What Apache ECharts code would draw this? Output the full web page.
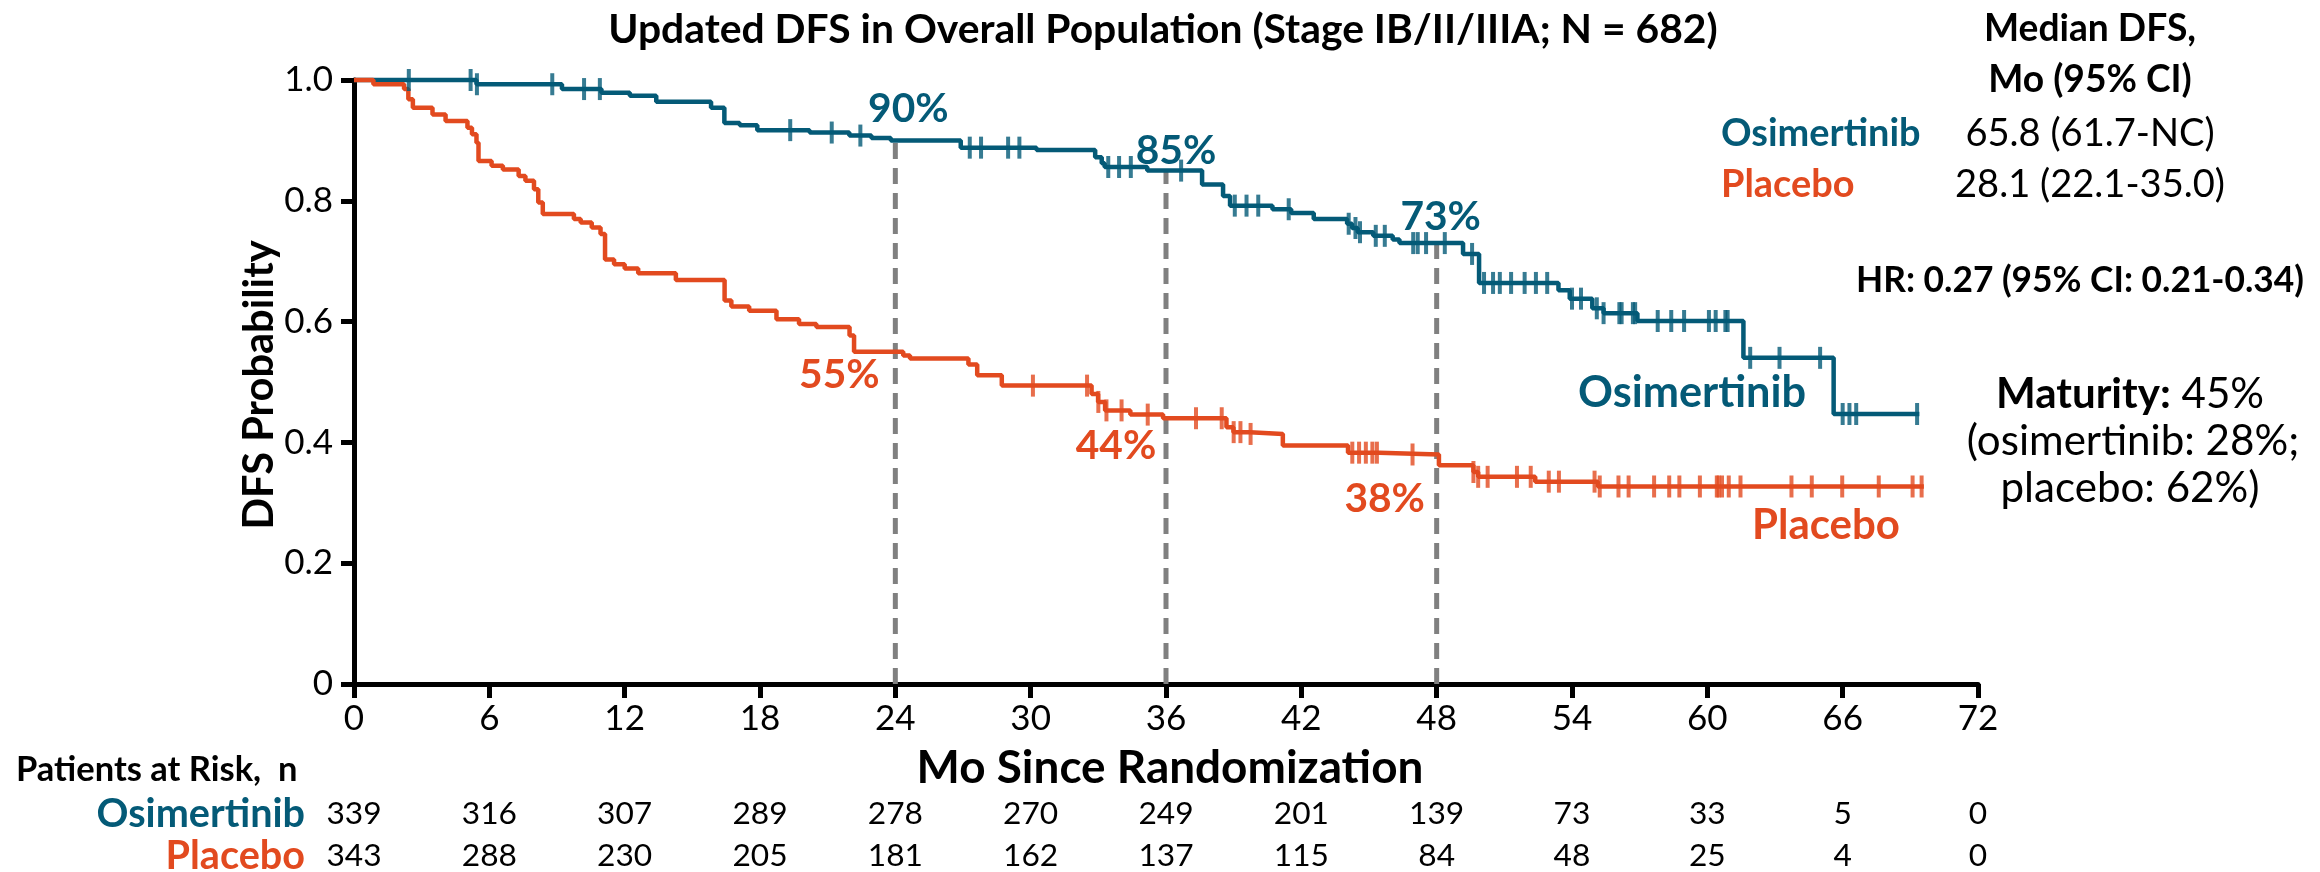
<!DOCTYPE html>
<html>
<head>
<meta charset="utf-8">
<script src="https://cdn.jsdelivr.net/npm/echarts@6.0.0/dist/echarts.min.js"></script>
<style>
  html, body { margin: 0; padding: 0; background: #ffffff; }
  #chart { width: 2320px; height: 872px; }
</style>
</head>
<body>
<div id="chart"></div>
<script>
// Kaplan-Meier step points: [month, DFS probability after the event at that month]
const osiSteps = [
  [0, 1.0], [5.43, 0.993], [9.22, 0.985], [10.97, 0.979], [12.23, 0.974], [13.4, 0.964],
  [15.83, 0.954], [16.42, 0.929], [17.1, 0.925], [17.88, 0.917], [20.2, 0.913], [21.96, 0.908],
  [22.94, 0.904], [23.8, 0.90], [26.9, 0.888], [30.26, 0.884], [32.86, 0.872], [33.15, 0.862],
  [33.28, 0.856], [35.17, 0.85], [37.6, 0.827], [38.53, 0.808], [38.84, 0.792], [40.72, 0.786],
  [41.55, 0.780], [42.55, 0.770], [44.03, 0.762], [44.25, 0.755], [44.5, 0.748], [45.19, 0.742],
  [46.05, 0.736], [46.35, 0.73], [49.17, 0.712], [49.88, 0.664], [53.4, 0.652], [53.9, 0.638],
  [54.9, 0.622], [55.4, 0.614], [56.9, 0.601], [61.6, 0.540], [65.6, 0.447], [69.4, 0.447]
];
const plaSteps = [
  [0, 1.0], [0.86, 0.993], [2.22, 0.985], [2.41, 0.968], [2.61, 0.954], [3.48, 0.943],
  [4.06, 0.932], [5.03, 0.921], [5.23, 0.910], [5.43, 0.896], [5.52, 0.866], [6.1, 0.858],
  [6.6, 0.852], [7.3, 0.841], [7.6, 0.833], [7.98, 0.819], [8.17, 0.797], [8.37, 0.778],
  [9.75, 0.770], [10.05, 0.764], [10.54, 0.756], [10.93, 0.745], [11.13, 0.703], [11.53, 0.695],
  [12.0, 0.688], [12.6, 0.680], [14.27, 0.669], [16.43, 0.635], [16.73, 0.625], [17.52, 0.618],
  [18.73, 0.604], [19.73, 0.596], [20.5, 0.591], [21.97, 0.577], [22.17, 0.55], [24.35, 0.544],
  [24.65, 0.539], [27.24, 0.529], [27.63, 0.511], [28.72, 0.494], [32.7, 0.480], [32.99, 0.467],
  [33.3, 0.453], [34.42, 0.446], [35.87, 0.44], [38.68, 0.425], [38.99, 0.417], [39.72, 0.414],
  [41.18, 0.395], [44.07, 0.383], [45.45, 0.38], [48.1, 0.362], [49.63, 0.351], [49.84, 0.343],
  [52.37, 0.335], [55.15, 0.327], [69.6, 0.327]
];

// Censoring times (months)
const osiCensored = [
  2.43, 5.17, 5.45, 8.79, 10.2, 10.9, 19.34, 21.18, 22.45, 27.3, 27.8, 29.0, 29.5, 33.44, 33.92,
  34.44, 36.67, 39.05, 39.57, 40.09, 41.44, 44.1, 44.4, 44.6, 45.3, 45.7, 46.96, 47.16, 47.53,
  48.36, 49.57, 50.1, 50.5, 50.8, 51.3, 51.9, 52.4, 52.9, 54.0, 54.4, 55.1, 55.4, 56.1, 56.2,
  56.7, 56.8, 57.8, 58.4, 58.97, 60.07, 60.37, 60.8, 60.9, 61.9, 63.2, 65.0, 66.0, 66.3, 66.6, 69.3
];
const plaCensored = [
  30.1, 32.5, 33.0, 33.36, 34.03, 35.19, 37.33, 38.47, 39.0, 39.3, 39.75, 44.26, 44.56, 44.86,
  45.15, 45.35, 46.93, 49.63, 49.84, 50.26, 51.56, 52.17, 52.97, 53.42, 55.0, 55.23, 56.06, 56.51,
  57.64, 58.31, 58.76, 59.67, 60.42, 60.5, 60.65, 60.95, 61.47, 63.73, 64.63, 65.98, 67.6, 69.1, 69.5
];

// Landmark DFS rates (%)
const landmarkMonths = [24, 36, 48];
const osiLandmarkPct = [90, 85, 73];
const plaLandmarkPct = [55, 44, 38];

// Patients at risk
const riskMonths = [0, 6, 12, 18, 24, 30, 36, 42, 48, 54, 60, 66, 72];
const osiAtRisk = [339, 316, 307, 289, 278, 270, 249, 201, 139, 73, 33, 5, 0];
const plaAtRisk = [343, 288, 230, 205, 181, 162, 137, 115, 84, 48, 25, 4, 0];

const TEAL = '#045A77';
const ORANGE = '#E24A1F';
const GREY = '#808080';
const FONT = 'Lato, "Open Sans", sans-serif';
const CAP = 0.7165; // cap height of Lato, in em

function stepAt(steps, t) {
  let v = steps[0][1];
  for (const [m, s] of steps) {
    if (m <= t) v = s; else break;
  }
  return v;
}

// font size weighted towards a target text width, tempered by a target cap height
const measureCtx = document.createElement('canvas').getContext('2d');
function fitSize(parts, width, cap) {
  let w = 0;
  parts.forEach(function (p) {
    measureCtx.font = p[1] + ' 100px ' + FONT;
    w += measureCtx.measureText(p[0]).width;
  });
  const byWidth = 100 * width / w;
  const byCap = cap / CAP;
  return Math.pow(byWidth, 0.8) * Math.pow(byCap, 0.2);
}

const chart = echarts.init(document.getElementById('chart'), null, { renderer: 'canvas' });

const series = [];
landmarkMonths.forEach(function (m) {
  series.push({
    type: 'line', silent: true, symbol: 'none', clip: false, z: 1,
    data: [[m, 0], [m, stepAt(osiSteps, m)]],
    lineStyle: { color: GREY, width: 5, type: [16, 9] }
  });
});
series.push({
  name: 'Osimertinib', type: 'line', step: 'end', symbol: 'none', clip: false, z: 3,
  data: osiSteps, lineStyle: { color: TEAL, width: 4.5 }
});
series.push({
  name: 'Placebo', type: 'line', step: 'end', symbol: 'none', clip: false, z: 3,
  data: plaSteps, lineStyle: { color: ORANGE, width: 4.5 }
});
series.push({
  type: 'scatter', symbol: 'rect', symbolSize: [4, 22], clip: false, z: 4,
  data: osiCensored.map(t => [t, stepAt(osiSteps, t)]), itemStyle: { color: TEAL }
});
series.push({
  type: 'scatter', symbol: 'rect', symbolSize: [4, 22], clip: false, z: 4,
  data: plaCensored.map(t => [t, stepAt(plaSteps, t)]), itemStyle: { color: ORANGE }
});

const tickSize = Math.round(fitSize([['30', 'normal']], 40, 26));

chart.setOption({
  animation: false,
  backgroundColor: '#ffffff',
  textStyle: { fontFamily: FONT },
  grid: { left: 354, right: 342, top: 80, bottom: 188, containLabel: false },
  xAxis: {
    type: 'value', min: 0, max: 72, interval: 6,
    axisLine: { show: true, onZero: false, lineStyle: { color: '#000', width: 5 } },
    axisTick: { show: true, length: 14, lineStyle: { color: '#000', width: 5 } },
    axisLabel: { fontFamily: FONT, fontSize: tickSize, color: '#000', margin: 17 },
    splitLine: { show: false }
  },
  yAxis: {
    type: 'value', min: 0, max: 1, interval: 0.2,
    axisLine: { show: true, lineStyle: { color: '#000', width: 5 } },
    axisTick: { show: true, length: 13, lineStyle: { color: '#000', width: 5 } },
    axisLabel: {
      fontFamily: FONT, fontSize: tickSize, color: '#000', margin: 21,
      formatter: v => (v === 0 ? '0' : v.toFixed(1))
    },
    splitLine: { show: false }
  },
  series: series
});

// text centred (or aligned) on a point; size fitted to the given width / cap height
function txt(text, x, y, o) {
  const weight = o.weight || 'normal';
  const size = o.size || fitSize([[text, weight]], o.w, o.cap);
  return {
    type: 'text', x: x, y: y, silent: true, z: 10, rotation: o.rotation || 0,
    style: {
      text: text, fill: o.fill || '#000',
      font: weight + ' ' + size.toFixed(1) + 'px ' + FONT,
      textAlign: o.align || 'center', align: o.align || 'center',
      textVerticalAlign: 'middle', verticalAlign: 'middle'
    }
  };
}

const g = [];

// title and axis names
g.push(txt('Updated DFS in Overall Population (Stage IB/II/IIIA; N = 682)', 1163, 30,
  { weight: 'bold', w: 1142, cap: 26 }));
g.push(txt('Mo Since Randomization', 1170, 768, { weight: 'bold', w: 533, cap: 27 }));
g.push(txt('DFS Probability', 260, 385, { weight: 'bold', w: 302, cap: 25, rotation: Math.PI / 2 }));

// landmark rate labels beside the dashed lines
const pctSize = fitSize([['90%', 'bold']], 80, 30);
const osiOffsets = [[13, -32], [10, -20], [4, -26]];
const plaOffsets = [[-56, 23], [-50, 28], [-52, 44]];
landmarkMonths.forEach(function (m, i) {
  const po = chart.convertToPixel({ gridIndex: 0 }, [m, stepAt(osiSteps, m)]);
  g.push(txt(osiLandmarkPct[i] + '%', po[0] + osiOffsets[i][0], po[1] + osiOffsets[i][1],
    { fill: TEAL, weight: 'bold', size: pctSize }));
  const pp = chart.convertToPixel({ gridIndex: 0 }, [m, stepAt(plaSteps, m)]);
  g.push(txt(plaLandmarkPct[i] + '%', pp[0] + plaOffsets[i][0], pp[1] + plaOffsets[i][1],
    { fill: ORANGE, weight: 'bold', size: pctSize }));
});

// curve names inside the plot
g.push(txt('Osimertinib', 1692, 393, { fill: TEAL, weight: 'bold', w: 230, cap: 30 }));
g.push(txt('Placebo', 1826, 525, { fill: ORANGE, weight: 'bold', w: 152, cap: 27 }));

// patients-at-risk table
const rowSize = fitSize([['Osimertinib', 'bold']], 215, 25);
const numSize = fitSize([['339', 'normal']], 55, 23);
g.push(txt('Patients at Risk,  n', 16, 770, { weight: 'bold', w: 286, cap: 23, align: 'left' }));
g.push(txt('Osimertinib', 305, 814, { weight: 'bold', size: rowSize, align: 'right', fill: TEAL }));
g.push(txt('Placebo', 305, 856, { weight: 'bold', size: rowSize, align: 'right', fill: ORANGE }));
riskMonths.forEach(function (m, i) {
  const x = chart.convertToPixel({ xAxisIndex: 0 }, m);
  g.push(txt(String(osiAtRisk[i]), x, 814, { size: numSize }));
  g.push(txt(String(plaAtRisk[i]), x, 856, { size: numSize }));
});

// summary panel
const headSize = fitSize([['Median DFS,', 'bold']], 220, 23);
const armSize = fitSize([['Osimertinib', 'bold']], 206, 24);
const valSize = fitSize([['28.1 (22.1-35.0)', 'normal']], 276, 25);
g.push(txt('Median DFS,', 2090, 29, { weight: 'bold', size: headSize }));
g.push(txt('Mo (95% CI)', 2090, 80, { weight: 'bold', size: headSize }));
g.push(txt('Osimertinib', 1721, 134, { weight: 'bold', size: armSize, align: 'left', fill: TEAL }));
g.push(txt('65.8 (61.7-NC)', 2090, 134, { size: valSize }));
g.push(txt('Placebo', 1721, 185, { weight: 'bold', size: armSize, align: 'left', fill: ORANGE }));
g.push(txt('28.1 (22.1-35.0)', 2090, 185, { size: valSize }));
g.push(txt('HR: 0.27 (95% CI: 0.21-0.34)', 2080, 281, { weight: 'bold', w: 454, cap: 24 }));

const matSize = fitSize([['(osimertinib: 28%;', 'normal']], 352, 24);
g.push({
  type: 'text', x: 2130, y: 394, silent: true, z: 10,
  style: {
    text: '{b|Maturity:} 45%', fill: '#000',
    font: 'normal ' + matSize.toFixed(1) + 'px ' + FONT,
    textAlign: 'center', align: 'center', textVerticalAlign: 'middle', verticalAlign: 'middle',
    rich: { b: { fontWeight: 'bold', fontSize: matSize, fontFamily: FONT, fill: '#000' } }
  }
});
g.push(txt('(osimertinib: 28%;', 2133, 441, { size: matSize }));
g.push(txt('placebo: 62%)', 2130, 488, { size: matSize }));

chart.setOption({ graphic: { elements: g } });
</script>
</body>
</html>
